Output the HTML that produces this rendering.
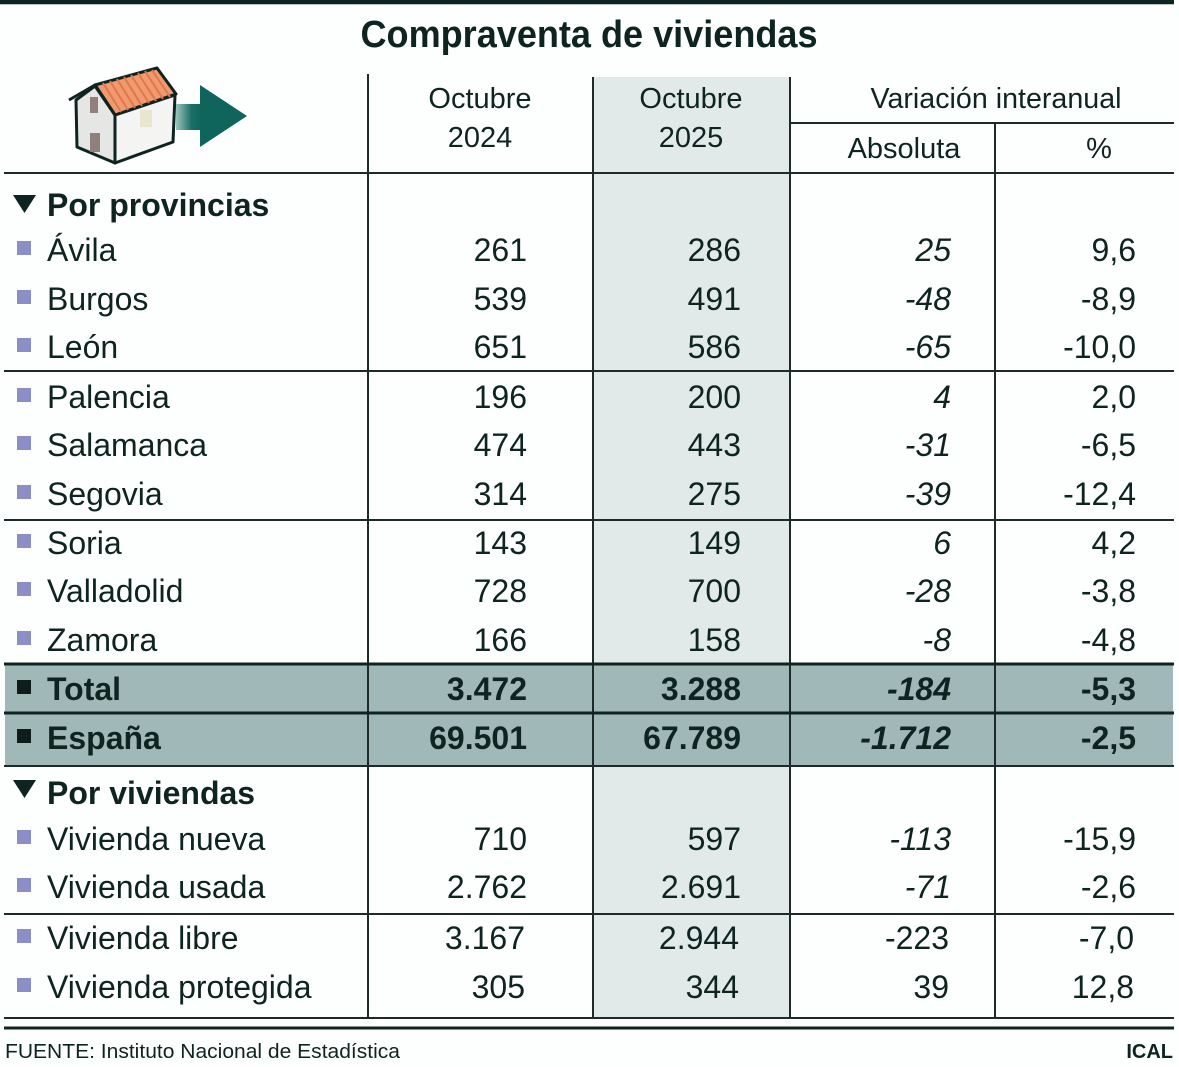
<!DOCTYPE html>
<html>
<head>
<meta charset="utf-8">
<style>
html,body{margin:0;padding:0;background:#fdfefe;}
svg{display:block;}
text{font-family:"Liberation Sans",Arial,sans-serif;fill:#0e2420;}
.b{font-weight:bold;}
.i{font-style:italic;}
.h{font-size:29px;}
.r{font-size:32px;}
</style>
</head>
<body>
<svg width="1179" height="1067" viewBox="0 0 1179 1067" xmlns="http://www.w3.org/2000/svg">
<defs>
<linearGradient id="shaft" x1="0" y1="0" x2="1" y2="0">
<stop offset="0" stop-color="#9cc4bd"/>
<stop offset="0.6" stop-color="#1b6e64"/>
<stop offset="1" stop-color="#0f655b"/>
</linearGradient>
</defs>
<rect x="0" y="0" width="1179" height="1067" fill="#fdfefe"/>
<!-- top bar -->
<rect x="0" y="0" width="1174" height="4" fill="#0b2622"/>
<rect x="0" y="4" width="1174" height="1" fill="#b9c2c0"/>

<!-- title -->
<text x="589" y="47" text-anchor="middle" class="b" font-size="38" textLength="457" lengthAdjust="spacingAndGlyphs">Compraventa de viviendas</text>

<!-- shaded column -->
<rect x="593" y="77" width="197" height="941" fill="#e1eae8"/>
<!-- total band -->
<rect x="5" y="664" width="1168" height="102" fill="#a0b8b7"/>

<!-- house icon -->
<g stroke="#0e2420" stroke-width="3" stroke-linejoin="round">
<rect x="176" y="104" width="26" height="26" fill="url(#shaft)" stroke="none"/>
<polygon points="200,85 247,116 200,147" fill="#0f655b" stroke="none"/>
<polygon points="76,100 95,86 115,115 115,163 77,147" fill="#e6e6e4"/>
<polygon points="115,115 175,95 173,142 115,163" fill="#f4f4f2"/>
<polygon points="95,85 157,68 176,94 115,115" fill="#f19a70"/>
<polyline points="69,100 95,85 115,115" fill="none"/>
</g>
<g stroke="#e0784c" stroke-width="2">
<line x1="103" y1="83" x2="121" y2="112"/>
<line x1="110" y1="81" x2="128" y2="110"/>
<line x1="117" y1="79" x2="135" y2="108"/>
<line x1="124" y1="77" x2="142" y2="106"/>
<line x1="131" y1="75" x2="149" y2="103"/>
<line x1="138" y1="73" x2="156" y2="101"/>
<line x1="145" y1="71" x2="163" y2="99"/>
<line x1="152" y1="70" x2="170" y2="97"/>
</g>
<rect x="90" y="97" width="8" height="16" fill="#8f807a"/>
<rect x="90" y="133" width="10" height="19" fill="#8f807a"/>
<rect x="140" y="110" width="12" height="17" fill="#e8e6cf"/>

<!-- grid lines -->
<g stroke="#1d2a28" stroke-width="2">
<line x1="368" y1="74" x2="368" y2="1018"/>
<line x1="593" y1="77" x2="593" y2="1018"/>
<line x1="790" y1="77" x2="790" y2="1018"/>
<line x1="995" y1="123" x2="995" y2="1018"/>
<line x1="790" y1="123" x2="1174" y2="123"/>
<line x1="4" y1="173" x2="1174" y2="173"/>
<line x1="4" y1="371" x2="1174" y2="371"/>
<line x1="4" y1="520" x2="1174" y2="520"/>
<line x1="4" y1="914" x2="1174" y2="914"/>
<line x1="4" y1="766" x2="1174" y2="766"/>
<line x1="4" y1="1018" x2="1174" y2="1018"/>
</g>
<g stroke="#0e2420" stroke-width="3">
<line x1="4" y1="664" x2="1174" y2="664"/>
<line x1="4" y1="713" x2="1174" y2="713"/>
<line x1="4" y1="1028" x2="1174" y2="1028"/>
</g>

<!-- headers -->
<text x="480" y="108" text-anchor="middle" class="h">Octubre</text>
<text x="480" y="147" text-anchor="middle" class="h">2024</text>
<text x="691" y="108" text-anchor="middle" class="h">Octubre</text>
<text x="691" y="147" text-anchor="middle" class="h">2025</text>
<text x="996" y="108" text-anchor="middle" class="h" textLength="251" lengthAdjust="spacingAndGlyphs">Variación interanual</text>
<text x="904" y="158" text-anchor="middle" class="h">Absoluta</text>
<text x="1099" y="158" text-anchor="middle" class="h">%</text>

<!-- section headers -->
<polygon points="13,195 36,195 24.5,213" fill="#0e2420"/>
<text x="47" y="216" class="r b">Por provincias</text>
<polygon points="13,780 36,780 24.5,798" fill="#0e2420"/>
<text x="47" y="804" class="r b">Por viviendas</text>

<!-- bullets -->
<g fill="#8b8fc6">
<rect x="17" y="241" width="14" height="14"/>
<rect x="17" y="290" width="14" height="14"/>
<rect x="17" y="338" width="14" height="14"/>
<rect x="17" y="388" width="14" height="14"/>
<rect x="17" y="436" width="14" height="14"/>
<rect x="17" y="485" width="14" height="14"/>
<rect x="17" y="534" width="14" height="14"/>
<rect x="17" y="582" width="14" height="14"/>
<rect x="17" y="631" width="14" height="14"/>
<rect x="17" y="830" width="14" height="14"/>
<rect x="17" y="878" width="14" height="14"/>
<rect x="17" y="929" width="14" height="14"/>
<rect x="17" y="978" width="14" height="14"/>
</g>
<g fill="#0e1c1a">
<rect x="17" y="680" width="14" height="14"/>
<rect x="17" y="729" width="14" height="14"/>
</g>

<!-- labels -->
<g class="r">
<text x="47" y="261">Ávila</text>
<text x="47" y="310">Burgos</text>
<text x="47" y="358">León</text>
<text x="47" y="408">Palencia</text>
<text x="47" y="456">Salamanca</text>
<text x="47" y="505">Segovia</text>
<text x="47" y="554">Soria</text>
<text x="47" y="602">Valladolid</text>
<text x="47" y="651">Zamora</text>
<text x="47" y="700" class="b">Total</text>
<text x="47" y="749" class="b">España</text>
<text x="47" y="850">Vivienda nueva</text>
<text x="47" y="898">Vivienda usada</text>
<text x="47" y="949">Vivienda libre</text>
<text x="47" y="998">Vivienda protegida</text>
</g>

<!-- col 2024 -->
<g class="r" text-anchor="end">
<text x="527" y="261">261</text>
<text x="527" y="310">539</text>
<text x="527" y="358">651</text>
<text x="527" y="408">196</text>
<text x="527" y="456">474</text>
<text x="527" y="505">314</text>
<text x="527" y="554">143</text>
<text x="527" y="602">728</text>
<text x="527" y="651">166</text>
<text x="527" y="700" class="b">3.472</text>
<text x="527" y="749" class="b">69.501</text>
<text x="527" y="850">710</text>
<text x="527" y="898">2.762</text>
<text x="525" y="949">3.167</text>
<text x="525" y="998">305</text>
</g>

<!-- col 2025 -->
<g class="r" text-anchor="end">
<text x="741" y="261">286</text>
<text x="741" y="310">491</text>
<text x="741" y="358">586</text>
<text x="741" y="408">200</text>
<text x="741" y="456">443</text>
<text x="741" y="505">275</text>
<text x="741" y="554">149</text>
<text x="741" y="602">700</text>
<text x="741" y="651">158</text>
<text x="741" y="700" class="b">3.288</text>
<text x="741" y="749" class="b">67.789</text>
<text x="741" y="850">597</text>
<text x="741" y="898">2.691</text>
<text x="739" y="949">2.944</text>
<text x="739" y="998">344</text>
</g>

<!-- absoluta -->
<g class="r" text-anchor="end">
<text x="951" y="261" class="i">25</text>
<text x="951" y="310" class="i">-48</text>
<text x="951" y="358" class="i">-65</text>
<text x="951" y="408" class="i">4</text>
<text x="951" y="456" class="i">-31</text>
<text x="951" y="505" class="i">-39</text>
<text x="951" y="554" class="i">6</text>
<text x="951" y="602" class="i">-28</text>
<text x="951" y="651" class="i">-8</text>
<text x="951" y="700" class="b i">-184</text>
<text x="951" y="749" class="b i">-1.712</text>
<text x="951" y="850" class="i">-113</text>
<text x="951" y="898" class="i">-71</text>
<text x="949" y="949">-223</text>
<text x="949" y="998">39</text>
</g>

<!-- % -->
<g class="r" text-anchor="end">
<text x="1136" y="261">9,6</text>
<text x="1136" y="310">-8,9</text>
<text x="1136" y="358">-10,0</text>
<text x="1136" y="408">2,0</text>
<text x="1136" y="456">-6,5</text>
<text x="1136" y="505">-12,4</text>
<text x="1136" y="554">4,2</text>
<text x="1136" y="602">-3,8</text>
<text x="1136" y="651">-4,8</text>
<text x="1136" y="700" class="b">-5,3</text>
<text x="1136" y="749" class="b">-2,5</text>
<text x="1136" y="850">-15,9</text>
<text x="1136" y="898">-2,6</text>
<text x="1134" y="949">-7,0</text>
<text x="1134" y="998">12,8</text>
</g>

<!-- footer -->
<text x="5" y="1058" font-size="20" textLength="395" lengthAdjust="spacingAndGlyphs">FUENTE: Instituto Nacional de Estadística</text>
<text x="1173" y="1058" font-size="20" class="b" text-anchor="end">ICAL</text>
</svg>
</body>
</html>
